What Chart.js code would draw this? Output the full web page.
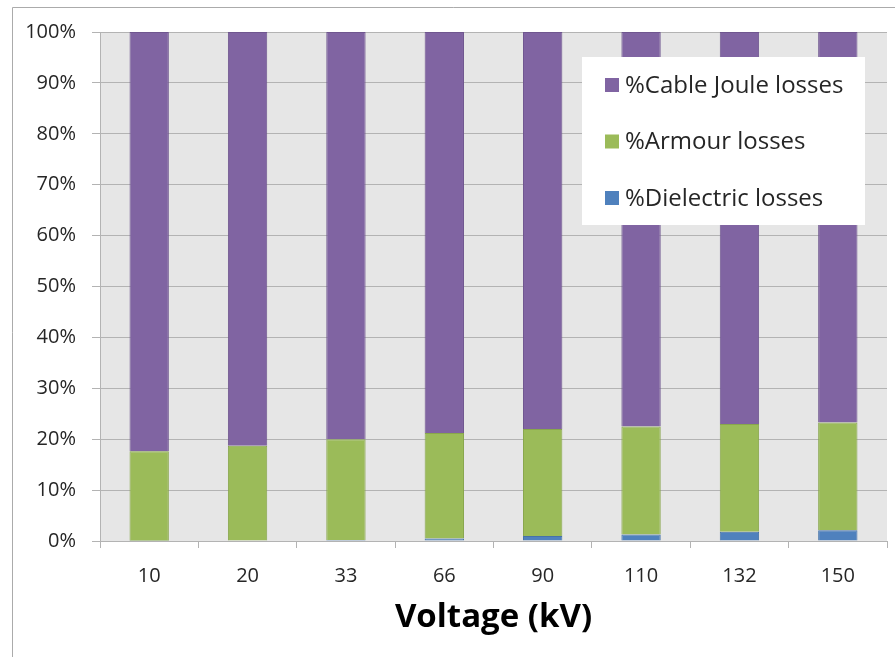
<!DOCTYPE html>
<html><head><meta charset="utf-8">
<script src="https://cdn.jsdelivr.net/npm/chart.js@4.4.1/dist/chart.umd.min.js"></script>
<style>html,body{margin:0;padding:0;background:#fff;}#wrap{width:895px;height:657px;position:relative;}</style>
</head><body><div id="wrap"><canvas id="c" width="895" height="657"></canvas></div>
<script>
// Share of cable losses by voltage level (percent of total)
const voltages = ['10', '20', '33', '66', '90', '110', '132', '150'];
const dielectricPct = [0.05, 0.1, 0.2, 0.5, 1.0, 1.3, 1.8, 2.1];
const armourPct = [17.6, 18.6, 19.8, 20.7, 21.0, 21.2, 21.2, 21.2];
const jouleLossPct = [82.35, 81.3, 80.0, 78.8, 78.0, 77.5, 77.0, 76.7];
const yTicks = [0, 10, 20, 30, 40, 50, 60, 70, 80, 90, 100];

const FONT = '"Open Sans", Lato, sans-serif';
const GRID = '#b3b3b3';
const TEXT = '#262626';

// Frame, plot background and the boxed legend
const decor = {
  id: 'decor',
  beforeDraw(chart) {
    const { ctx, chartArea: a } = chart;
    ctx.save();
    ctx.strokeStyle = '#ababab';
    ctx.lineWidth = 1;
    ctx.beginPath();
    ctx.moveTo(12.5, 657); ctx.lineTo(12.5, 7.5); ctx.lineTo(895, 7.5);
    ctx.stroke();
    ctx.fillStyle = '#e6e6e6';
    ctx.fillRect(a.left, a.top, a.right - a.left, a.bottom - a.top);
    ctx.restore();
  },
  afterDatasetsDraw(chart) {
    const { ctx } = chart;
    ctx.save();
    ctx.fillStyle = '#ffffff';
    ctx.fillRect(582, 57, 283, 168);
    const sets = chart.data.datasets.slice().reverse();
    ctx.font = '24px ' + FONT;
    ctx.textBaseline = 'middle';
    sets.forEach((ds, i) => {
      const y = 85 + i * 56.5;
      ctx.fillStyle = ds.backgroundColor;
      ctx.fillRect(605, y - 7, 14, 14);
      ctx.fillStyle = TEXT;
      ctx.fillText(ds.label, 625, y + 1);
    });
    ctx.restore();
  }
};

new Chart(document.getElementById('c'), {
  type: 'bar',
  data: {
    labels: voltages,
    datasets: [
      { label: '%Dielectric losses', data: dielectricPct, backgroundColor: '#4f81bd', borderColor: '#4572a8', borderWidth: 1 },
      { label: '%Armour losses', data: armourPct, backgroundColor: '#9bbb59', borderColor: '#88a64c', borderWidth: 1 },
      { label: '%Cable Joule losses', data: jouleLossPct, backgroundColor: '#8064a2', borderColor: '#6f568f', borderWidth: 1 }
    ]
  },
  options: {
    responsive: false,
    devicePixelRatio: 1,
    animation: false,
    layout: { padding: { left: 0, top: 32, right: 8, bottom: 0 } },
    datasets: { bar: { categoryPercentage: 1, barPercentage: 0.4 } },
    plugins: { legend: { display: false }, tooltip: { enabled: false } },
    scales: {
      x: {
        stacked: true,
        afterFit(s) { s.height = 116; },
        grid: { offset: true, drawOnChartArea: false, drawTicks: true, tickLength: 7, color: GRID },
        border: { color: GRID },
        ticks: { color: TEXT, font: { family: FONT, size: 20 }, padding: 16 },
        title: { display: true, text: 'Voltage (kV)', color: '#000', font: { family: FONT, size: 33, weight: 'bold' }, padding: { top: 0, bottom: 20 } }
      },
      y: {
        stacked: true,
        min: 0, max: 100,
        afterFit(s) { s.width = 100; },
        afterBuildTicks(s) { s.ticks = yTicks.map(v => ({ value: v })); },
        grid: { color: GRID, tickLength: 8 },
        border: { color: GRID },
        ticks: { color: TEXT, font: { family: FONT, size: 20 }, padding: 16, callback: v => v + '%' }
      }
    }
  },
  plugins: [decor]
});
</script></body></html>
